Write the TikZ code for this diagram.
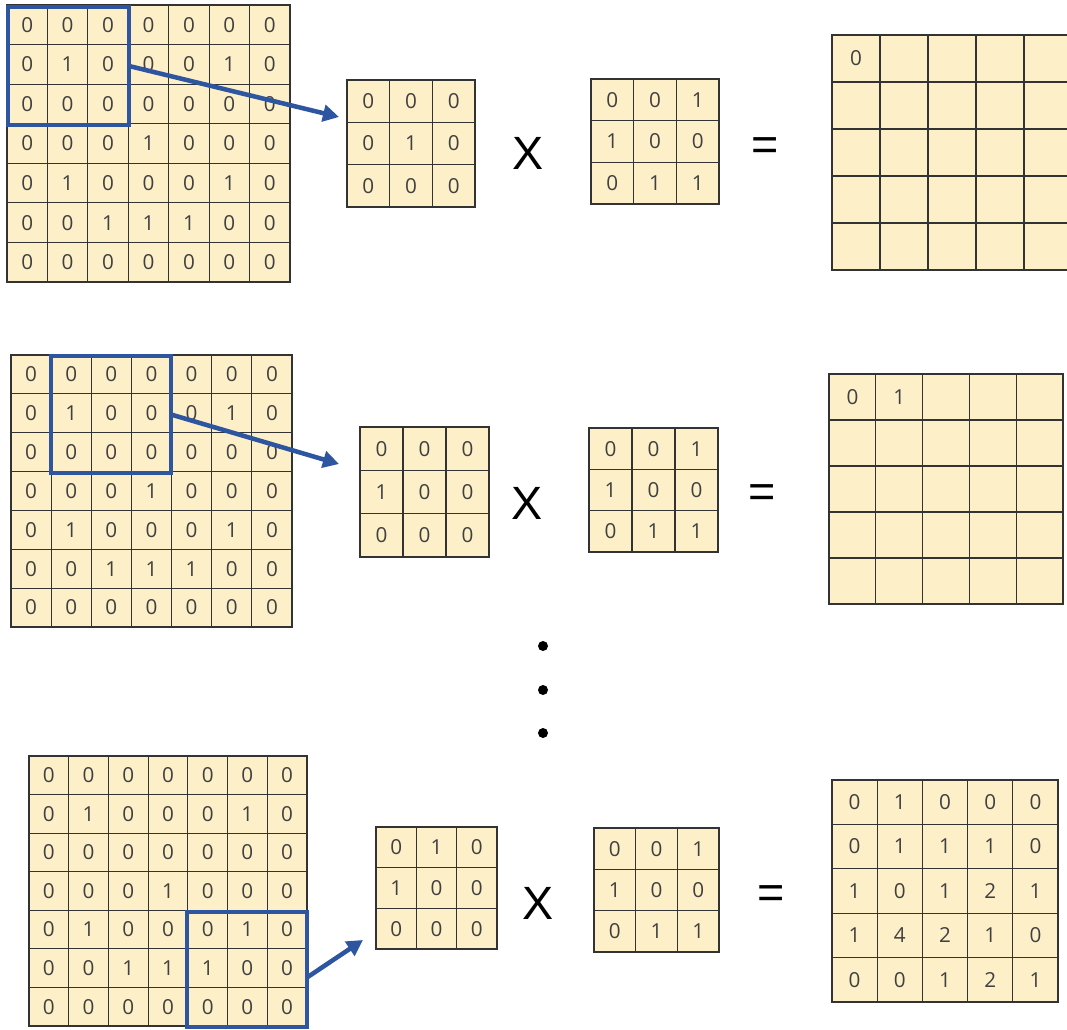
\documentclass[tikz,border=0pt]{standalone}
\usepackage{fontspec}
\setmainfont{Open Sans}
\usetikzlibrary{arrows.meta,calc}
\definecolor{cellyellow}{HTML}{FDF0C9}
\definecolor{gridline}{HTML}{333333}
\definecolor{digitgray}{HTML}{404040}
\definecolor{winblue}{HTML}{2D55A0}
\newfontfamily\digitfont{Open Sans}
\newfontfamily\opfont{Liberation Sans}
\newcommand\mygrid[8]{% name, x0, y0, cw, ch, ncol, nrow, rows
  \node[cellbox, anchor=north west, minimum width={#4*#6*0.75pt}, minimum height={#5*#7*0.75pt}] (#1) at (#2,#3) {};
  \pgfmathtruncatemacro\myncm{#6-1}
  \pgfmathtruncatemacro\mynrm{#7-1}
  \foreach \i in {1,...,\myncm} {\draw[gridlines] ({#2+\i*#4},#3) -- ({#2+\i*#4},{#3+#7*#5});}
  \foreach \j in {1,...,\mynrm} {\draw[gridlines] (#2,{#3+\j*#5}) -- ({#2+#6*#4},{#3+\j*#5});}
  \foreach \myrow [count=\r] in {#8} {
    \foreach \v [count=\c] in \myrow {
      \node[digit] (#1-\r-\c) at ({#2+(\c-0.5)*#4},{#3+(\r-0.5)*#5}) {\v};
    }
  }
}
\tikzset{
  cellbox/.style={fill=cellyellow, draw=gridline, line width=0.85pt, inner sep=0pt, outer sep=0pt},
  gridlines/.style={draw=gridline, line width=0.8pt},
  digit/.style={font=\digitfont\fontsize{15.5}{17}\selectfont, text=digitgray, inner sep=0pt},
  window/.style={draw=winblue, line width=2.8pt, inner sep=0pt, outer sep=0pt, anchor=north west},
  slide/.style={draw=winblue, line width=3.4pt, -{Triangle[length=12pt,width=12.5pt]}},
  opsym/.style={font=\opfont\fontsize{35}{38}\selectfont, inner sep=0pt},
  dotmark/.style={circle, fill=black, inner sep=0pt, minimum size=7.5pt},
}
\begin{document}
\begin{tikzpicture}[x=0.75pt,y=-0.75pt]
\path[use as bounding box] (0,0) rectangle (1067,1030);
\clip (0,0) rectangle (1067,1030);

% ---------- row 1 ----------
\mygrid{ga}{7}{5}{40.43}{39.57}{7}{7}{{0,0,0,0,0,0,0},{0,1,0,0,0,1,0},{0,0,0,0,0,0,0},{0,0,0,1,0,0,0},{0,1,0,0,0,1,0},{0,0,1,1,1,0,0},{0,0,0,0,0,0,0}}
\mygrid{pa}{347}{80}{42.67}{42.33}{3}{3}{{0,0,0},{0,1,0},{0,0,0}}
\mygrid{ka}{591}{79}{42.67}{41.67}{3}{3}{{0,0,1},{1,0,0},{0,1,1}}
\mygrid{oa}{832}{35}{48}{47}{5}{5}{{0}}
\node[window, minimum width={121*0.75pt}, minimum height={118*0.75pt}] (wa) at (8,7) {};
\node[opsym] (xa) at (528,153) {X};
\node[opsym] (ea) at (765,149) {=};
\coordinate (ta) at (339,117);
\draw[slide] (wa.east) -- (ta);

% ---------- row 2 ----------
\mygrid{gb}{11}{355}{40.14}{38.86}{7}{7}{{0,0,0,0,0,0,0},{0,1,0,0,0,1,0},{0,0,0,0,0,0,0},{0,0,0,1,0,0,0},{0,1,0,0,0,1,0},{0,0,1,1,1,0,0},{0,0,0,0,0,0,0}}
\mygrid{pb}{360}{427}{43}{43.33}{3}{3}{{0,0,0},{1,0,0},{0,0,0}}
\mygrid{kb}{589}{428}{43}{41.33}{3}{3}{{0,0,1},{1,0,0},{0,1,1}}
\mygrid{ob}{829}{374}{46.8}{46}{5}{5}{{0,1}}
\node[window, minimum width={120*0.75pt}, minimum height={117*0.75pt}] (wb) at (51,356) {};
\node[opsym] (xb) at (527,503) {X};
\node[opsym] (eb) at (762,496) {=};
\coordinate (tb) at (339,464);
\draw[slide] (wb.east) -- (tb);

% ---------- dots ----------
\node[dotmark] (d1) at (543,646) {};
\node[dotmark] (d2) at (543,690) {};
\node[dotmark] (d3) at (543,733) {};

% ---------- row 3 ----------
\mygrid{gc}{29}{756}{39.71}{38.57}{7}{7}{{0,0,0,0,0,0,0},{0,1,0,0,0,1,0},{0,0,0,0,0,0,0},{0,0,0,1,0,0,0},{0,1,0,0,0,1,0},{0,0,1,1,1,0,0},{0,0,0,0,0,0,0}}
\mygrid{pc}{376}{827}{40.33}{40.67}{3}{3}{{0,1,0},{1,0,0},{0,0,0}}
\mygrid{kc}{594}{828}{41.67}{41.33}{3}{3}{{0,0,1},{1,0,0},{0,1,1}}
\mygrid{oc}{832}{780}{45.2}{44.4}{5}{5}{{0,1,0,0,0},{0,1,1,1,0},{1,0,1,2,1},{1,4,2,1,0},{0,0,1,2,1}}
\node[window, minimum width={120*0.75pt}, minimum height={115*0.75pt}] (wc) at (187,912) {};
\node[opsym] (xc) at (538,903) {X};
\node[opsym] (ec) at (771,897) {=};
\coordinate (sc) at ($(wc.east)+(0,8)$);
\coordinate (tc) at (363,940);
\draw[slide] (sc) -- (tc);
\end{tikzpicture}
\end{document}
